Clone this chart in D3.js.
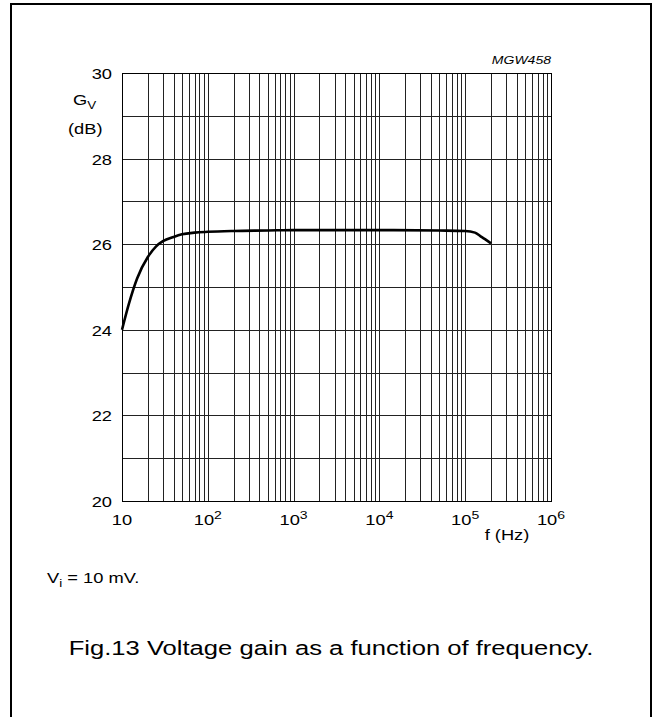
<!DOCTYPE html>
<html>
<head>
<meta charset="utf-8">
<script src="https://cdn.jsdelivr.net/npm/d3@7"></script>
<style>
  body { margin: 0; background: #fff; }
  svg { display: block; font-family: "Liberation Sans", Arial, sans-serif; }
</style>
</head>
<body>
<div id="chart"></div>
<script>
// frequency (Hz) vs voltage gain (dB)
const freq = [10, 12, 15, 20, 25, 30, 40, 50, 70, 100, 200, 500, 1000, 10000, 50000, 100000, 130000, 150000, 170000, 200000];
const gain = [24.0, 24.6, 25.2, 25.7, 25.95, 26.07, 26.17, 26.23, 26.27, 26.29, 26.31, 26.32, 26.33, 26.33, 26.32, 26.31, 26.27, 26.19, 26.12, 26.02];

const yTicks = [20, 22, 24, 26, 28, 30];
const xTickExp = [1, 2, 3, 4, 5, 6];

const width = 653, height = 717;
const margin = { left: 122, top: 73, right: 102, bottom: 216 };
const plotW = width - margin.left - margin.right;
const plotH = height - margin.top - margin.bottom;
const stretch = 1.22; // the scanned figure has slightly wide lettering

const svg = d3.select('#chart').append('svg')
    .attr('width', width)
    .attr('height', height);

// text placed at x,y and widened a bit
function label(parent, px, py, size, anchor) {
    return parent.append('g')
        .attr('transform', `translate(${px},${py}) scale(${stretch},1)`)
        .append('text')
        .attr('font-size', size)
        .attr('text-anchor', anchor || 'start');
}

// outer frame
svg.append('path')
    .attr('d', 'M11,' + (height + 5) + ' V4 H651 V' + (height + 5))
    .attr('fill', 'none')
    .attr('stroke', '#000')
    .attr('stroke-width', 2);

const g = svg.append('g').attr('transform', `translate(${margin.left},${margin.top})`);

const x = d3.scaleLog().domain([10, 1e6]).range([0, plotW]);
const y = d3.scaleLinear().domain([20, 30]).range([plotH, 0]);

// grid: vertical lines at 2..9 x each decade plus the decades
const vGrid = [];
for (let e = 1; e < 6; e++) {
    for (let m = 2; m <= 9; m++) vGrid.push(m * Math.pow(10, e));
}
vGrid.push(...[2, 3, 4, 5].map(e => Math.pow(10, e)));

g.selectAll('.vgrid').data(vGrid).enter().append('line')
    .attr('x1', d => Math.round(x(d)) + 0.5)
    .attr('x2', d => Math.round(x(d)) + 0.5)
    .attr('y1', 0).attr('y2', plotH)
    .attr('stroke', '#222').attr('stroke-width', 1);

g.selectAll('.hgrid').data(d3.range(21, 30)).enter().append('line')
    .attr('y1', d => Math.round(y(d)) + 0.5)
    .attr('y2', d => Math.round(y(d)) + 0.5)
    .attr('x1', 0).attr('x2', plotW)
    .attr('stroke', '#222').attr('stroke-width', 1);

g.append('rect')
    .attr('x', 0.5).attr('y', 0.5)
    .attr('width', plotW).attr('height', plotH)
    .attr('fill', 'none').attr('stroke', '#000').attr('stroke-width', 1);

// curve
const line = d3.line()
    .x((d, i) => x(freq[i]))
    .y(d => y(d))
    .curve(d3.curveMonotoneX);

g.append('path')
    .attr('d', line(gain))
    .attr('fill', 'none')
    .attr('stroke', '#000')
    .attr('stroke-width', 2.6);

// y tick labels
yTicks.forEach(d => {
    label(g, -10, y(d) + 6, 15, 'end').text(d);
});

// x tick labels
xTickExp.forEach(e => {
    const t = label(g, x(Math.pow(10, e)), plotH + 24, 15, 'middle');
    t.append('tspan').text('10');
    if (e > 1) {
        t.append('tspan').attr('dy', -6).attr('font-size', 11.5).text(e);
    }
});

// axis titles
const gv = label(g, -49, 32, 15);
gv.append('tspan').text('G');
gv.append('tspan').attr('dy', 4).attr('font-size', 11).text('V');

label(g, -54, 61, 15).text('(dB)');

label(g, 385, plotH + 39, 15, 'middle').text('f (Hz)');

label(g, plotW, -9, 11.5, 'end')
    .attr('font-style', 'italic')
    .text('MGW458');

// note and caption
const note = label(svg, 47, 583, 15);
note.append('tspan').text('V');
note.append('tspan').attr('dy', 4).attr('font-size', 11).text('i');
note.append('tspan').attr('dy', -4).text(' = 10 mV.');

label(svg, 331, 655, 21, 'middle')
    .text('Fig.13  Voltage gain as a function of frequency.');
</script>
</body>
</html>
